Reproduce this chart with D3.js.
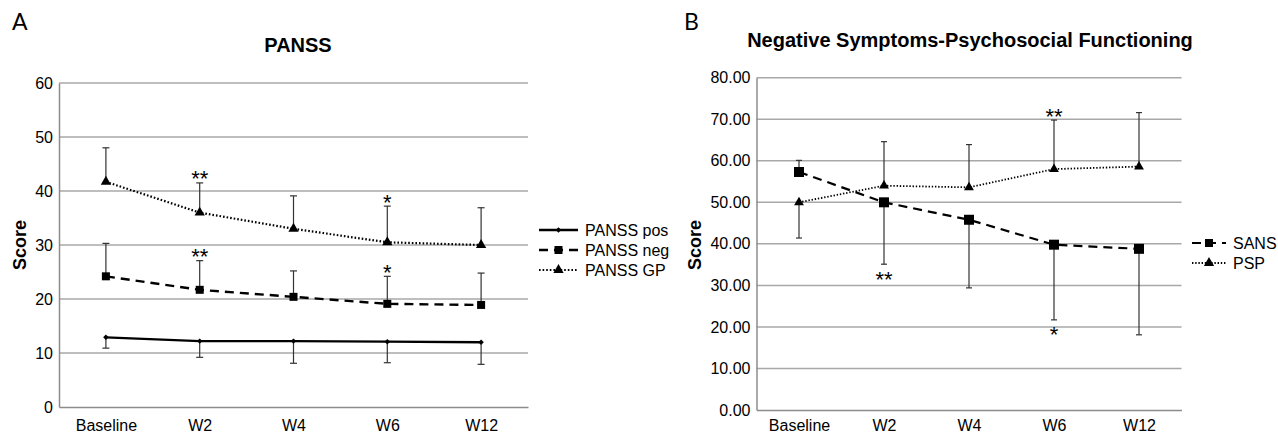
<!DOCTYPE html>
<html>
<head>
<meta charset="utf-8">
<script src="https://cdn.jsdelivr.net/npm/d3@7"></script>
<style>
  body { margin: 0; background: #fff; }
  svg text { font-family: "Liberation Sans", Arial, sans-serif; fill: #000; }
</style>
</head>
<body>
<svg id="chart" width="1278" height="434"></svg>
<script>
// ---- data ----
var weeks = ["Baseline", "W2", "W4", "W6", "W12"];

// panel A: PANSS
var pansPos = [12.9, 12.2, 12.2, 12.1, 12.0];
var pansPosErr = [10.9, 9.2, 8.1, 8.2, 7.9];      // error bar end (drawn downward)
var pansNeg = [24.2, 21.7, 20.4, 19.1, 18.9];
var pansNegErr = [30.3, 27.1, 25.2, 24.2, 24.8];  // drawn upward
var pansGP = [41.7, 36.0, 33.0, 30.5, 30.0];
var pansGPErr = [48.0, 41.5, 39.1, 37.2, 36.9];
var pansTicks = [0, 10, 20, 30, 40, 50, 60];

// panel B: SANS / PSP
var sans = [57.3, 50.0, 45.8, 39.8, 38.8];
var sansErr = [60.1, 35.1, 29.4, 21.7, 18.1];
var psp = [50.0, 54.0, 53.6, 58.0, 58.6];
var pspErr = [41.4, 64.6, 63.9, 69.8, 71.6];
var negTicks = [0, 10, 20, 30, 40, 50, 60, 70, 80];

// significance marks: [series, week index, label]
var pansStars = [["gp", 1, "**"], ["gp", 3, "*"], ["neg", 1, "**"], ["neg", 3, "*"]];
var negStars = [["psp", 3, "**"], ["sans", 1, "**"], ["sans", 3, "*"]];

var svg = d3.select("#chart");

var styles = {
  pos:  { dash: null,  width: 2.4, shape: "diamond" },
  neg:  { dash: "9,6", width: 2.4, shape: "square" },
  gp:   { dash: "1.6,2", width: 2.2, shape: "triangle" },
  sans: { dash: "9,6", width: 2.2, shape: "square" },
  psp:  { dash: "1.4,1.8", width: 1.8, shape: "triangle" }
};

function markerPath(shape, big) {
  if (shape == "diamond") return d3.symbol(d3.symbolSquare, 15)();
  if (shape == "square") return d3.symbol(d3.symbolSquare, big ? 100 : 64)();
  return d3.symbol(d3.symbolTriangle, big ? 42 : 46)();
}

function drawPanel(p) {
  var g = svg.append("g");
  var x = d3.scalePoint().domain(weeks).range([p.x0, p.x1]).padding(0.5);
  var y = d3.scaleLinear().domain([0, p.max]).range([p.y0, p.y1]);

  // grid
  g.selectAll("line.grid").data(p.ticks.filter(function(t) { return t > 0; }))
    .enter().append("line")
    .attr("x1", p.x0).attr("x2", p.x1)
    .attr("y1", function(d) { return y(d); }).attr("y2", function(d) { return y(d); })
    .attr("stroke", "#a8a8a8").attr("stroke-width", 1.5);

  // axes
  var yAxis = g.append("g").attr("transform", "translate(" + p.x0 + ",0)")
    .call(d3.axisLeft(y).tickValues(p.ticks).tickSize(0).tickPadding(6).tickFormat(p.fmt));
  yAxis.select(".domain").attr("stroke", "#8c8c8c").attr("stroke-width", 1.5);
  yAxis.selectAll("text").style("font-size", "16px");

  var xAxis = g.append("g").attr("transform", "translate(0," + p.y0 + ")")
    .call(d3.axisBottom(x).tickSize(0).tickPadding(p.xPad));
  xAxis.select(".domain").attr("stroke", "#8c8c8c").attr("stroke-width", 1.5);
  xAxis.selectAll("text").style("font-size", "16px");

  // titles
  g.append("text").attr("x", p.titleX).attr("y", p.titleY)
    .attr("text-anchor", "middle").style("font-size", "20px").style("font-weight", "bold")
    .text(p.title);
  g.append("text").attr("transform", "translate(" + p.scoreX + ",245) rotate(-90)")
    .attr("text-anchor", "middle").style("font-size", "18px").style("font-weight", "bold")
    .text("Score");
  g.append("text").attr("x", p.letterX).attr("y", 30)
    .style("font-family", "Lato, 'Open Sans', sans-serif").style("font-size", "23px")
    .text(p.letter);

  // series
  p.series.forEach(function(s) {
    var st = styles[s.key];
    // error bars
    var eb = g.append("g");
    s.values.forEach(function(v, i) {
      var cx = x(weeks[i]);
      eb.append("line").attr("x1", cx).attr("x2", cx)
        .attr("y1", y(v)).attr("y2", y(s.err[i]))
        .attr("stroke", "#333").attr("stroke-width", 1.2);
      eb.append("line").attr("x1", cx - p.cap).attr("x2", cx + p.cap)
        .attr("y1", y(s.err[i])).attr("y2", y(s.err[i]))
        .attr("stroke", "#333").attr("stroke-width", 1.2);
    });
    var line = d3.line().x(function(d, i) { return x(weeks[i]); }).y(function(d) { return y(d); });
    g.append("path").datum(s.values).attr("d", line)
      .attr("fill", "none").attr("stroke", "#000")
      .attr("stroke-width", st.width).attr("stroke-dasharray", st.dash);
    g.selectAll(null).data(s.values).enter().append("path")
      .attr("d", markerPath(st.shape, p.big))
      .attr("transform", function(d, i) {
        return "translate(" + x(weeks[i]) + "," + y(d) + ")" + (st.shape == "diamond" ? " rotate(45)" : "");
      })
      .attr("fill", "#000");
  });

  // stars
  p.stars.forEach(function(a) {
    var s = p.series.filter(function(d) { return d.key == a[0]; })[0];
    var v = s.values[a[1]], e = s.err[a[1]];
    var ey = y(e);
    var cy = e > v ? ey - 9 : ey + 10;
    g.append("text").attr("x", x(weeks[a[1]])).attr("y", cy + 12.5)
      .attr("text-anchor", "middle").style("font-size", "22px")
      .text(a[2]);
  });

  // legend
  p.series.forEach(function(s, i) {
    var st = styles[s.key];
    var ly = p.legY + i * p.legStep;
    g.append("line").attr("x1", p.legX).attr("x2", p.legX + p.legW)
      .attr("y1", ly).attr("y2", ly)
      .attr("stroke", "#000").attr("stroke-width", st.width).attr("stroke-dasharray", st.dash);
    g.append("path").attr("d", markerPath(st.shape, false))
      .attr("transform", "translate(" + (p.legX + p.legW / 2) + "," + ly + ")" + (st.shape == "diamond" ? " rotate(45)" : ""))
      .attr("fill", "#000");
    g.append("text").attr("x", p.legX + p.legW + 7).attr("y", ly).attr("dy", "0.35em")
      .style("font-size", "16px").text(s.name);
  });
}

drawPanel({
  letter: "A", letterX: 12, title: "PANSS", titleX: 298, titleY: 52, scoreX: 26,
  x0: 59, x1: 528, y0: 407, y1: 83, max: 60, ticks: pansTicks, fmt: d3.format("d"),
  cap: 3.5, big: false, xPad: 13,
  series: [
    { key: "pos", name: "PANSS pos", values: pansPos, err: pansPosErr },
    { key: "neg", name: "PANSS neg", values: pansNeg, err: pansNegErr },
    { key: "gp", name: "PANSS GP", values: pansGP, err: pansGPErr }
  ],
  stars: pansStars, legX: 539, legW: 39, legY: 230, legStep: 20
});

drawPanel({
  letter: "B", letterX: 684, title: "Negative Symptoms-Psychosocial Functioning", titleX: 970, titleY: 47, scoreX: 701,
  x0: 756.5, x1: 1181.5, y0: 410, y1: 77.7, max: 80, ticks: negTicks, fmt: d3.format(".2f"),
  cap: 3, big: true, xPad: 10,
  series: [
    { key: "sans", name: "SANS", values: sans, err: sansErr },
    { key: "psp", name: "PSP", values: psp, err: pspErr }
  ],
  stars: negStars, legX: 1192, legW: 34, legY: 243, legStep: 20
});
</script>
</body>
</html>
